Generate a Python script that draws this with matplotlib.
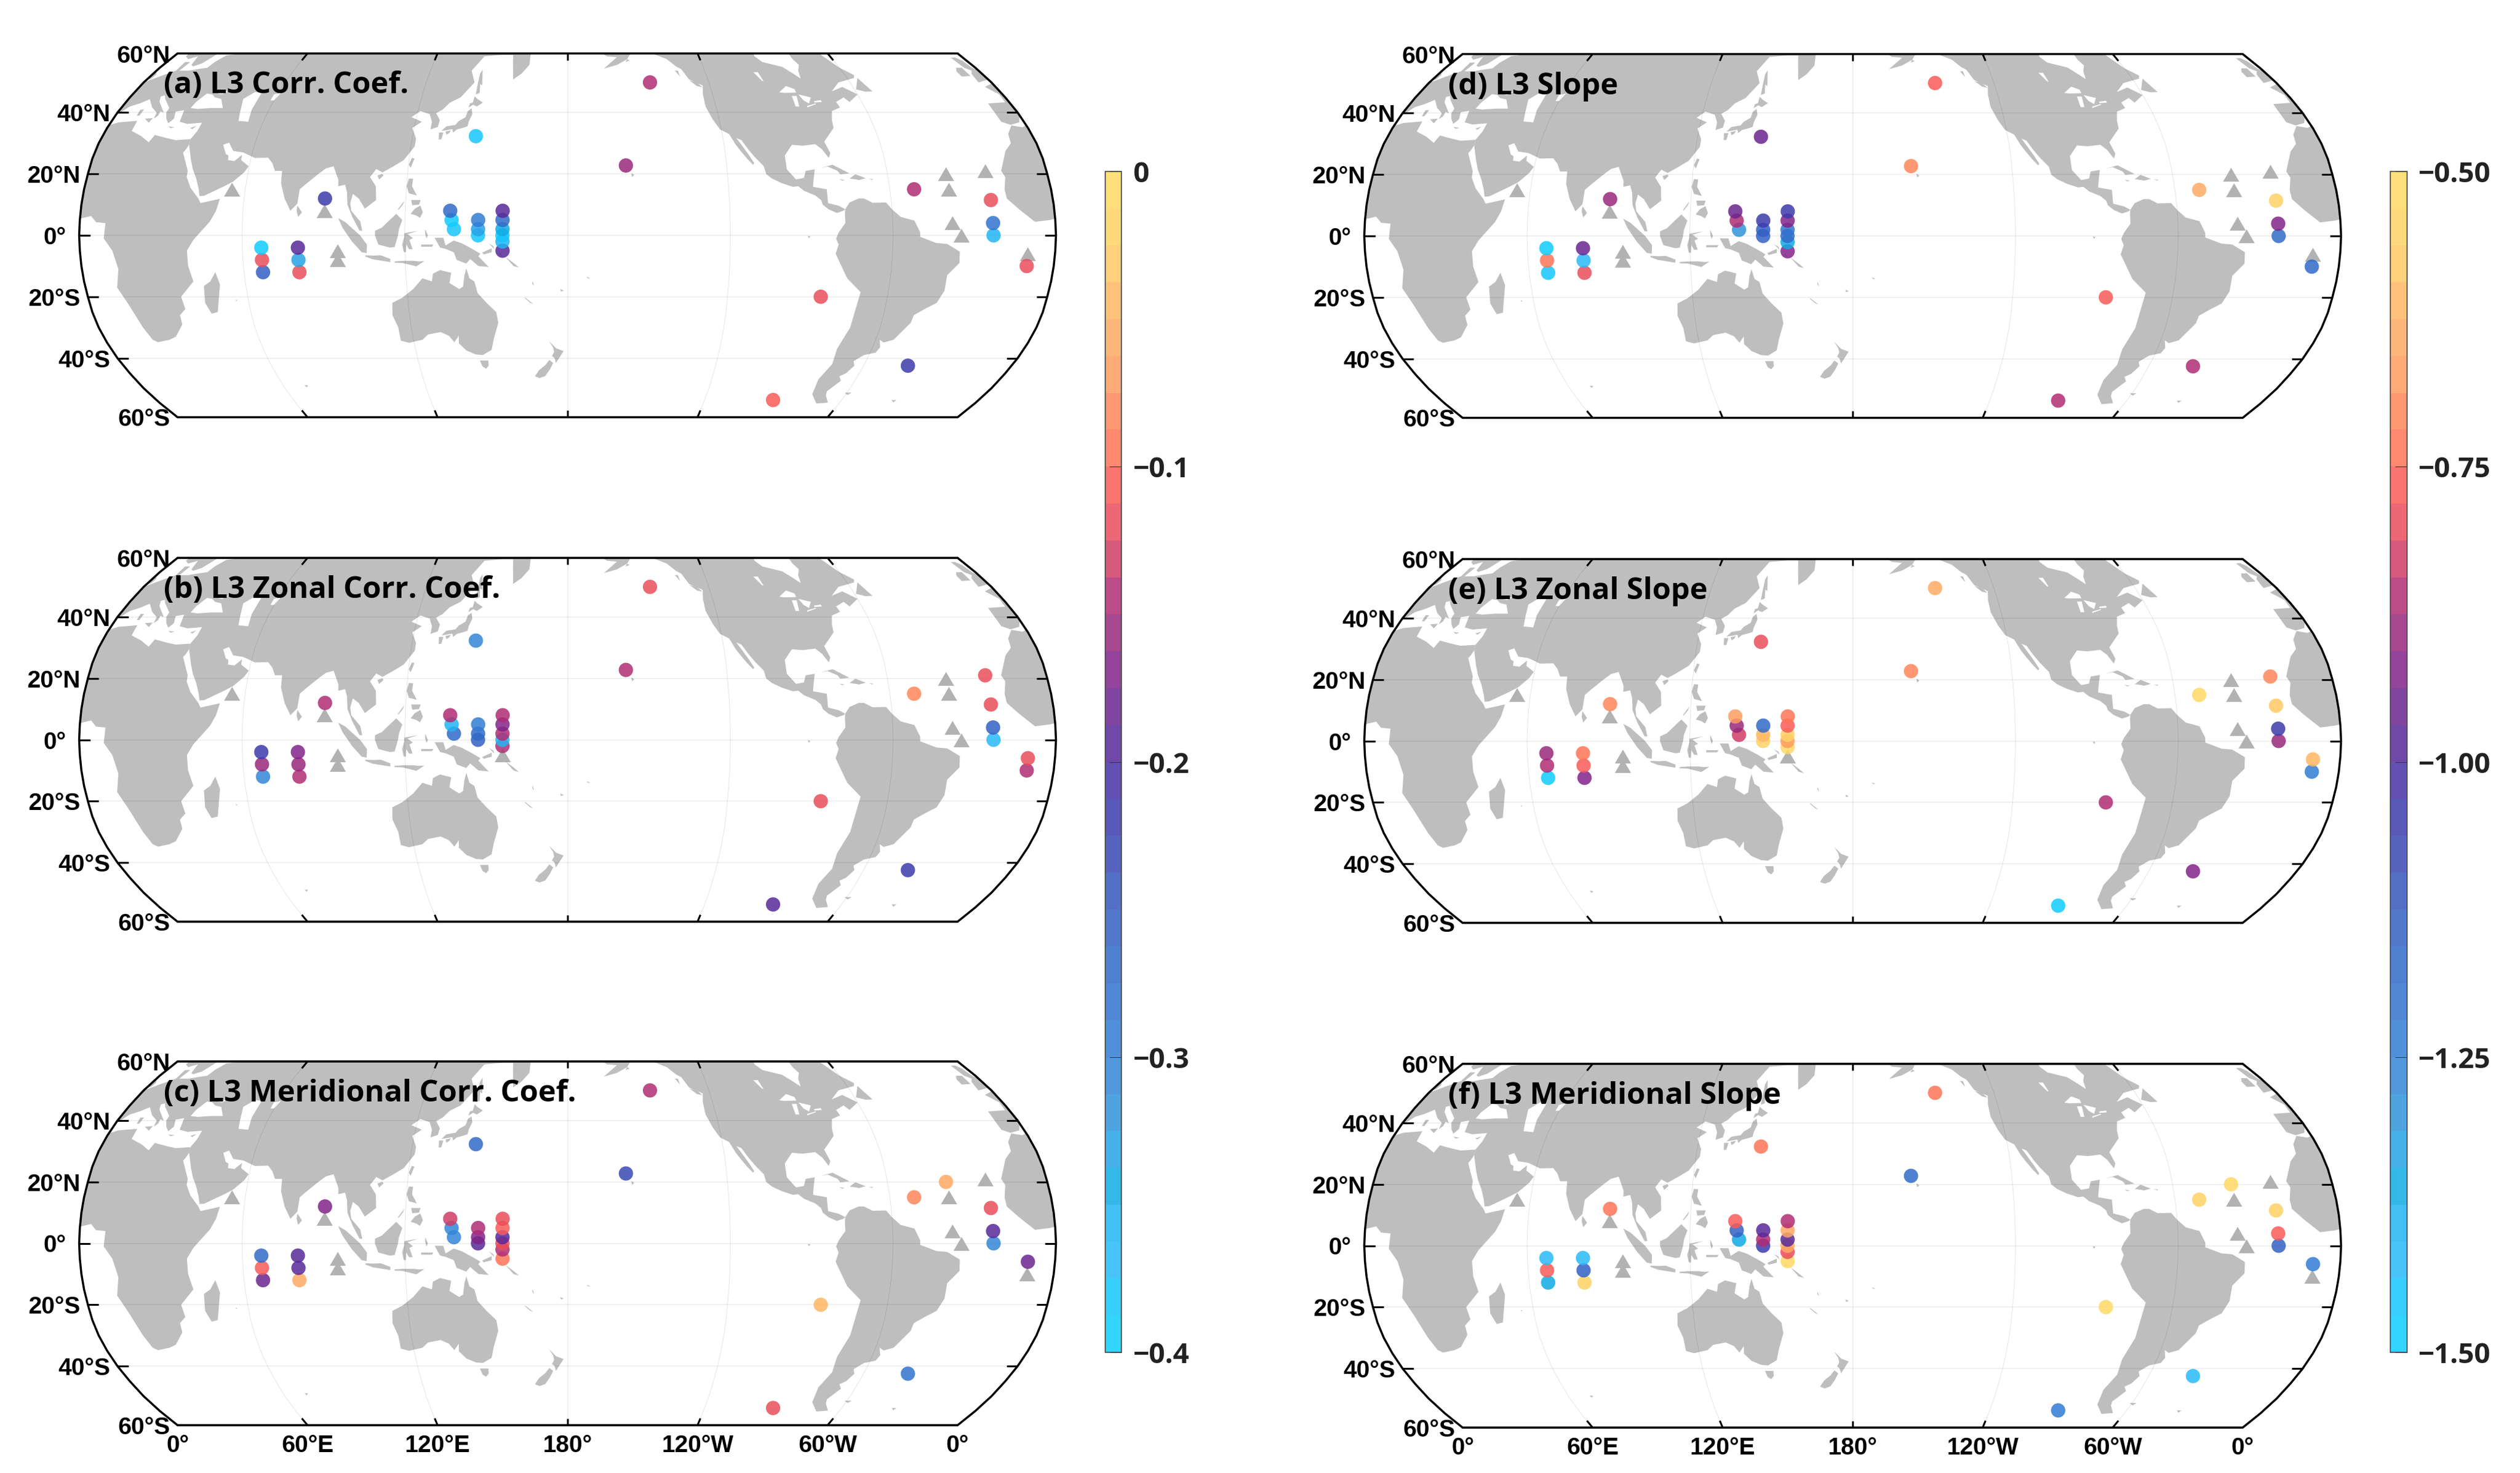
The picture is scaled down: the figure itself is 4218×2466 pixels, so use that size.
import numpy as np
import matplotlib
matplotlib.use('Agg')
import matplotlib.pyplot as plt
from matplotlib.colors import ListedColormap, to_rgb
from matplotlib.patches import Polygon
from matplotlib.cm import ScalarMappable

W, H = 4218, 2466
plt.rcParams['font.family'] = ['Open Sans', 'DejaVu Sans']

# stations, lon / lat
lons = [67, 67, 67, 80.5, 80.5, 80.5, 90, 136.6, 137.2, 138.1, 147, 147, 147, 156, 156, 156, 156, 156, 156,
        144.5, -145, -158, -85, -42, -90, -51, -38, -23, -23, -23, -23, -10, -10]
lats = [-4, -8, -12, -4, -8, -12, 12, 8, 5, 2, 5, 2, 0, 8, 5, 2, 0, -2, -5,
        32.3, 50, 22.75, -20, -42.5, -54, 15, 20, 21, 11.5, 4, 0, -6, -10]
nan = np.nan
# always triangles
tri_lons = [55, 90, 95, 95, -38, -38, -35]
tri_lats = [15, 8, -5, -8, 15, 4, 0]

corr_all = [-.388, -.124, -.256, -.20, -.336, -.122, -.22, -.264, -.388, -.38, -.292, -.336, -.38,
            -.20, -.264, -.348, -.376, -.352, -.192,
            -.384, -.144, -.16, -.116, -.22, -.106, -.144, nan, nan, -.116, -.28, -.36, nan, -.124]
corr_zonal = [-.22, -.152, -.308, -.168, -.156, -.14, -.144, -.144, -.36, -.264, -.296, -.272, -.256,
              -.144, -.168, -.14, -.36, -.144, nan,
              -.308, -.114, -.14, -.116, -.22, -.196, -.084, nan, -.122, -.116, -.26, -.368, -.116, -.14]
corr_merid = [-.264, -.104, -.184, -.188, -.188, -.06, -.168, -.132, -.308, -.308, -.144, -.172, -.20,
              -.124, -.108, -.20, -.124, -.14, -.088,
              -.264, -.14, -.228, -.04, -.276, -.12, -.08, -.056, nan, -.12, -.188, -.308, -.176, nan]
slope_all = [-1.47, -.72, -1.45, -.96, -1.42, -.805, -.90, -.95, -.855, -1.30, -1.05, -1.15, -1.15,
             -1.05, -.92, -1.19, -1.17, -1.36, -.92,
             -.96, -.765, -.69, -.765, -.855, -.85, -.63, nan, nan, -.55, -.92, -1.17, nan, -1.17]
slope_zonal = [-.90, -.85, -1.47, -.72, -.77, -.92, -.71, -.66, -.89, -.83, -1.16, -.62, -.54,
               -.72, -.77, -.54, -.66, -.53, nan,
               -.81, -.65, -.69, -.855, -.92, -1.47, -.53, nan, -.71, -.58, -1.06, -.89, -.60, -1.25]
slope_merid = [-1.42, -.77, -1.37, -1.42, -1.14, -.56, -.73, -.78, -1.14, -1.37, -.99, -.87, -1.05,
               -.85, -.64, -1.0, -.63, -.80, -.53,
               -.73, -.73, -1.18, -.53, -1.42, -1.24, -.55, -.53, nan, -.55, -.78, -1.14, -1.25, nan]

titles = ['(a) L3 Corr. Coef.', '(b) L3 Zonal Corr. Coef.', '(c) L3 Meridional Corr. Coef.',
          '(d) L3 Slope', '(e) L3 Zonal Slope', '(f) L3 Meridional Slope']

corr_ticks = [0, -.1, -.2, -.3, -.4]
corr_ticklabels = ['0', '\u22120.1', '\u22120.2', '\u22120.3', '\u22120.4']
slope_ticks = [-.5, -.75, -1, -1.25, -1.5]
slope_ticklabels = ['\u22120.50', '\u22120.75', '\u22121.00', '\u22121.25', '\u22121.50']

lat_ticks = [60, 40, 20, 0, -20, -40, -60]
lat_ticklabels = ['60°N', '40°N', '20°N', '0°', '20°S', '40°S', '60°S']
lon_ticks = [0, 60, 120, 180, 240, 300, 360]
lon_ticklabels = ['0°', '60°E', '120°E', '180°', '120°W', '60°W', '0°']

# colour bands as they look on paper, bottom to top
band_colors = ['#33D4FF', '#38CFFF', '#48C4FA', '#42C0F5', '#33B8E8', '#48B0E8', '#4FA4E0', '#5298DC',
               '#5090DA', '#5088D6', '#5080D0', '#5278CC', '#5470C6', '#5664C0', '#5A58B8', '#6250B2',
               '#7048A8', '#80469F', '#94449A', '#A84890', '#BC4C88', '#D65A7C', '#EC6874', '#FA7470',
               '#FF8A70', '#FF9873', '#FFAB78', '#FFB67A', '#FFC27A', '#FFD07C', '#FFD97C', '#FFDF7B']

# coastlines, rough, lon / lat
land = [
    # Africa, with Sinai
    [(-5.9,35.8),(-2,35.2),(3,36.8),(10,37.3),(10.2,34),(15,32.3),(19,30.3),(20,32.7),(25,31.7),(29,31),(32.3,31.2),
     (34.5,31.3),(34.9,29.5),(34.2,27.8),(33.6,27),(35.5,24),(37.2,21),(37.3,19),(39.5,15.5),(43,12),(44,10.5),(51,11.9),(50,8),(48,4.5),(42,-1.5),
     (39.5,-5),(39.5,-10),(40.7,-15),(35,-20),(35.5,-24),(32.8,-26),(32.5,-29),(28,-33),(25,-34),(20,-34.8),(18.4,-34),
     (17,-30),(14.5,-22.5),(11.8,-17),(13.5,-11),(12,-5),(9,-1),(9.5,4),(6,4.3),(4,6.3),(-2,5),(-7.5,4.4),(-13,8.5),
     (-17,12),(-17.3,15),(-16,19),(-17,21),(-13,27.5),(-9.8,30),(-9,33)],
    [(49.3,-12),(50.4,-16),(47.5,-25),(45,-25.5),(43.5,-22),(44.3,-16.5),(47,-15)],
    # Eurasia
    [(-9,43),(-8.9,37),(-6,36),(-2,36.8),(0,39),(3,42),(6,43),(8.8,44.4),(12.3,41.7),(15.7,40),(16,38),(17,39),(16.8,40.4),
     (18.5,40),(16,41.8),(13.5,43.6),(12.4,45.3),(13.7,45.7),(15,44.5),(19.4,41.5),(19.5,40),(21,38),(22.8,36.5),(24,38),
     (23,40.3),(26,40.8),(26.3,40),(27,37),(30.5,36.3),(36,36.7),(35.8,34),(34.5,31.3),(34.9,29.5),(37.5,24.5),(39,21.5),
     (41,18.5),(42.7,15),(43.3,12.8),(45,12.9),(52,16),(55,17.5),(58.5,20.5),(59.8,22.5),(56.5,24.5),(56.3,26.2),(54,24.2),
     (51.5,24.5),(51.2,26),(50,26.5),(48,29.5),(50,30.2),(52.5,27.5),(56.5,27),(61.5,25.2),(66.5,25.3),(68.5,23.5),(70,21),
     (72.7,21),(73,17),(75,12),(77.5,8),(79.9,10.3),(80.3,15),(82.3,16.7),(86.5,20),(89,21.8),(91.8,22.5),(94.3,18),(94.5,16),
     (97,16.5),(98,14),(98.5,10),(100.5,6),(103.3,1.5),(104.3,1.5),(103.5,4.5),(100,8),(99.5,10.5),(100.2,13.5),(102.5,12),
     (105,8.7),(109,11.5),(108.5,16),(106,19),(108,21.6),(110.5,20.5),(114,22.3),(118,24.5),(121.5,29),(121.5,31.5),(119.3,35),
     (122.5,37),(118,38.5),(121,40.5),(125,39.5),(126.5,37),(126.5,34.5),(129.2,35.3),(129.5,37.5),(127.5,39.8),(129.8,41),
     (132,43.2),(136,45),(140.5,50),(138,54),(142,59),(150,59.5),(155,59.5),(155.5,57),(156.7,51),(160,53),(163,56),(163,60),
     (180,65),(180,72),(100,78),(60,72),(30,70),(15,68),(5,62),(5.5,59),(8,58),(11,59),(12.5,56),(14,55.5),(16.5,56.5),
     (18.8,60),(17,62),(22,65.5),(25,65),(21.5,62),(21.5,60),(30,60),(23.5,59.3),(21.5,57),(21,55),(18.5,54.7),(14,54),(10,54),
     (10.5,57),(8.2,57),(8.5,54),(4,52),(1.6,50.8),(-1,49.5),(-4.5,48.5),(-1.3,46),(-1.7,43.4)],
    [(-5.5,50),(1.5,51.2),(1.7,52.7),(-1.5,55),(-2,57.5),(-3.5,58.6),(-5.5,58.5),(-5,55),(-3,54),(-4.5,53),(-5,51.7)],
    [(-10,52),(-6,52.2),(-6,55),(-8.5,55),(-10,53.8)],
    [(12.5,38),(15.5,38.2),(15,36.7)], [(8.3,41),(9.7,41),(9.5,39),(8.5,39)], [(32.5,35),(34.5,35.6),(33.5,34.6)],
    [(23.6,35.5),(26.2,35.2),(24.8,34.9)],
    # South East Asia
    [(80,9.7),(81.8,7.5),(80.5,6),(79.8,8)],
    [(95.3,5.6),(98,4.3),(103.5,0),(106,-3),(105.8,-5.8),(104,-5.5),(100.5,-2),(97,2.5)],
    [(105.3,-6.5),(108.5,-6.6),(111,-6.5),(114.5,-7.7),(114.4,-8.7),(108,-7.8),(105.3,-6.9)],
    [(109,1.5),(111.5,2.5),(113.8,4.5),(116.7,7),(119,5),(117.8,2),(117.5,0),(116.2,-3.8),(114.5,-4),(110.2,-3),(109,0)],
    [(119.8,0.7),(124.9,1.5),(121,0.4),(123,-0.9),(121.7,-1.5),(122.8,-4.5),(121.5,-4.5),(120.5,-3),(120.3,-5.5),(119.5,-5.4),(119,-3),(119.8,-0.5)],
    [(116,-8.5),(119,-8.3),(123,-8.3),(125,-8.5),(127,-8.4),(124,-10.1),(119,-9),(116,-8.9)],
    [(127.5,2),(128.5,0),(128,-1),(127.5,0.5)], [(126,-3),(130.5,-3),(130,-3.7),(126,-3.7)],
    [(131,-0.8),(134.2,-0.8),(135,-3.3),(138,-1.7),(141,-2.6),(145,-4.5),(147.8,-6),(147,-6.8),(150.8,-10.3),(147,-10),(144,-7.7),
     (142.5,-9.2),(139,-8),(138,-5.5),(135,-4.4),(133,-4),(132.2,-2.8)],
    [(148.5,-5.6),(152,-4.2),(152,-5.5),(149,-6.2)], [(151,-2.7),(153,-4.5),(152.6,-3.5)], [(155,-5.5),(156,-7),(154.8,-6.3)],
    [(157,-7),(160,-9),(162,-10.5),(160,-10)],
    [(120.6,18.5),(122.2,18.4),(122,16),(124,13),(121,13.7),(120,16)], [(122,11.5),(125.5,11.5),(125,10),(122.5,9.8)],
    [(122,7),(123.5,8.7),(125.5,9.7),(126.5,7.5),(125.5,5.7),(124,6.5)], [(117.2,8.4),(119.5,11.3),(119,10),(117.5,8.3)],
    [(121,25.2),(122,25),(120.9,22),(120.1,23)], [(108.7,19.5),(110.5,20),(111,19.5),(109.5,18.2)],
    # Japan, Sakhalin
    [(130.9,34),(132.5,35.5),(136,36),(137,37.2),(139.5,38.5),(140,40.5),(141.3,41.4),(142,39.5),(141,37),(140.8,35.5),(139,35),
     (136.8,34.5),(135.5,33.5),(135,34.6),(132.5,34.2)],
    [(130,33.5),(131.7,33.5),(131.3,31.3),(130.3,31.2)], [(132.5,33.8),(134.5,34.2),(134,33.3),(133,32.8)],
    [(140,41.6),(141.7,42.6),(143.3,42),(145.5,43.3),(143,44.5),(141.7,45.4),(141.4,43.3),(140.3,43)],
    [(142,46),(143.5,46.5),(143,49.5),(144,49),(143.3,52),(142.7,54.3),(142,53),(142,49.5)],
    # Australia and around
    [(114,-22),(113.5,-26),(115,-30),(115,-34.3),(118,-35),(123.5,-34),(126,-32.3),(131,-31.5),(134,-32.7),(135.8,-34.8),(137.8,-32.7),
     (137.5,-35.2),(140,-37.5),(143.5,-38.8),(146.3,-39),(150,-37.3),(151.3,-33.7),(153.5,-28.5),(153,-25),(149.5,-22),(146.3,-18.8),
     (145.3,-15),(143.5,-14),(142.5,-10.8),(141.7,-13),(141,-16.7),(139.5,-17.5),(136,-15.5),(136.8,-12.2),(132.7,-11.3),(130,-12.5),
     (129.5,-15),(126,-14),(122.3,-17.5),(118,-20.3)],
    [(144.8,-40.8),(148.2,-40.8),(148,-42.5),(146.8,-43.5),(145.5,-42.8)],
    [(172.8,-34.5),(175.5,-36.8),(178.4,-37.7),(177,-39.5),(175.3,-41.6),(174.8,-40),(173.8,-39.3),(174.7,-38),(174.3,-36.5)],
    [(172.7,-40.6),(174.2,-41.6),(172.8,-43.7),(170.8,-45.9),(168.4,-46.6),(166.5,-46),(168.3,-44),(171,-42.3)],
    [(164,-20.2),(167,-22.3),(166,-22),(164,-20.5)], [(177.3,-17.5),(178.6,-18),(177.5,-18.3)], [(167,-15),(167.5,-16.5),(166.8,-15.7)],
    [(69,-49),(70.5,-49),(69.5,-49.7)], [(55.3,-20.9),(55.8,-21.2),(55.3,-21.4)], [(-172.8,-13.5),(-171.5,-14),(-172.5,-14)],
    # North America
    [(-168,66),(-165,60.5),(-162,59),(-157.5,58.7),(-164,54.7),(-158,56),(-153,58),(-151.5,59.5),(-149,60.3),(-146,60.8),(-140,59.7),(-135,58),
     (-132,55.5),(-130,54.5),(-128,51),(-123,49),(-124,46),(-124.2,42),(-122.5,37.7),(-120.5,34.5),(-117.3,33),(-115.5,29.5),(-114,27.5),
     (-112,25),(-110,23),(-109.5,23.5),(-111,26),(-113,29),(-114.8,31.7),(-113,31),(-111,28),(-109,25.5),(-106,22.5),(-105.5,20),(-103.5,18.5),
     (-100,17),(-96,15.8),(-94,16),(-92,14.5),(-88,13),(-86,11.5),(-85.5,10),(-83.5,8.5),(-80.5,7.3),(-78,8),(-77.3,8.5),(-79.5,9.6),(-83.5,10.5),
     (-83.5,15),(-88.5,15.8),(-88,18),(-87,21.5),(-90.5,21),(-91.5,18.7),(-94.5,18.2),(-97.5,21.5),(-97.5,26),(-94,29.5),(-90,29.2),(-85,29.7),
     (-82.8,28),(-81,25.2),(-80,26.8),(-81.3,30.5),(-76,35),(-75.5,37.5),(-74,40.5),(-70,41.7),(-70.5,43.5),(-66.5,45),(-65,43.5),(-60,46),
     (-64.5,48.5),(-70,47),(-65,50),(-57,51.5),(-56,52.5),(-60,55),(-64,60),(-70,61),(-78,62.5),(-78,58),(-77,56),(-79,54),(-80,51.3),(-82,53),
     (-85,55.3),(-92.5,57),(-94.5,59),(-94,61),(-90,70),(-120,72),(-168,72)],
    [(-59.3,47.7),(-55.5,51.5),(-53,47),(-56,46.9)],
    [(-84.9,21.9),(-80,23),(-74.2,20.2),(-77.7,19.9),(-78.5,21),(-82,22.4)],
    [(-74.4,18.5),(-72,19.9),(-68.4,18.6),(-71,18),(-72,18.2)], [(-78.3,18.3),(-76.3,18),(-77.3,17.8)], [(-67.2,18.4),(-65.7,18.3),(-66,18)],
    [(-128,50.7),(-125,50),(-123.4,48.4),(-125.5,48.8)], [(-133,54),(-131.7,54),(-131.5,52)], [(-153,58),(-152,57.5),(-154,57)],
    [(-156,20.3),(-155,19.7),(-155.8,19),(-156,19.8)], [(-158.3,21.6),(-157.7,21.4),(-158,21.3)],
    [(-50,62),(-44,59.9),(-41,62)],
    # South America
    [(-77.3,8.5),(-75.5,10.7),(-72,12),(-70,12),(-67,10.6),(-62,10.7),(-60,8.5),(-57,6),(-52,4.8),(-50,1),(-50,-0.5),(-44,-2.5),(-40,-2.8),
     (-35.2,-5.3),(-35,-9),(-39,-13),(-39,-18),(-41,-22),(-45,-24),(-48.5,-26),(-48.8,-28.5),(-53,-34),(-56.5,-34.9),(-58.4,-34),(-57,-36.5),
     (-57.8,-38.2),(-62,-39),(-65,-41),(-63.7,-42.5),(-65.5,-45),(-67.5,-46),(-65.8,-47.5),(-69,-51),(-68.3,-52.4),(-65.2,-54.9),(-70,-55.2),
     (-74.5,-52),(-75.5,-47),(-73,-42),(-73.7,-37),(-71.5,-30),(-70.3,-18.5),(-76,-14),(-81,-6),(-80,-3),(-81,-1),(-80,1),(-77.5,4),(-77.5,7)],
    [(-61,-51.5),(-58,-51.5),(-59,-52.3)], [(-38,-54),(-36,-54),(-36.5,-54.8)], [(-91.5,-0.2),(-90.5,-0.3),(-91,-1)],
]
lakes = [
    [(28,41.5),(31,41.2),(36,41.5),(41,41.5),(38,44.5),(35,45),(33,46),(30.5,46.3),(28.5,43.5)],
    [(37,46),(39,47.2),(35,46.3)],
    [(47,44.5),(50,46.8),(53,46.5),(53,41),(54,37),(50,37.3),(49,40)],
    [(58.5,46),(61,46.5),(60,44),(58.5,44)],
    [(-92,46.7),(-88,48.8),(-85,47.8),(-85,46.6),(-90,46.5)], [(-87.8,42),(-86.3,42),(-85.5,45.5),(-87.5,45.5)],
    [(-84.5,46),(-80,45),(-81.8,43),(-83.5,44)], [(-83.3,41.7),(-79,42.8),(-79.2,43),(-83,42.2)],
    [(-79.5,43.3),(-76.3,43.5),(-76.4,44.1),(-79.3,43.8)], [(-99,53.5),(-97,53.5),(-96.5,50.5),(-97,50.5)],
]

# Robinson table, every 5 degrees
rob_lat = np.arange(0, 95, 5)
rob_len = [1, .9986, .9954, .99, .9822, .973, .96, .9427, .9216, .8962, .8679, .835, .7986, .7597, .7186, .6732, .6213, .5722, .5322]
rob_dfe = [0, .062, .124, .186, .248, .31, .372, .434, .4958, .5571, .6176, .6769, .7346, .7903, .8435, .8936, .9394, .9761, 1]


def proj(lon, lat):
    # lon in degrees east, map is centred on 180
    lon = np.asarray(lon, dtype=float)
    lat = np.asarray(lat, dtype=float)
    x = .8487 * np.interp(np.abs(lat), rob_lat, rob_len) * np.radians(lon - 180)
    y = 1.3523 * np.interp(np.abs(lat), rob_lat, rob_dfe) * np.sign(lat)
    return x, y


def draw_map(ax, values, title, bottom_labels):
    ax.set_xlim(-2.6663, 2.6663)
    ax.set_ylim(-.9934, .9934)
    ax.axis('off')

    side = np.linspace(-60, 60, 121)
    xl, yl = proj(np.zeros_like(side), side)
    xr, yr = proj(np.full_like(side, 360), side)
    edge = np.column_stack([np.r_[xr, xl[::-1]], np.r_[yr, yl[::-1]]])
    frame = Polygon(edge, closed=True, fc='none', ec='k', lw=.85, zorder=10, clip_on=False)
    ax.add_patch(frame)

    # shapes that cross 0 degrees are drawn on both sides, the frame cuts them
    for polys, color, z in [(land, '#BEBEBE', 1), (lakes, 'white', 1.5)]:
        for poly in polys:
            lon, lat = np.array(poly).T
            for shift in (0, 360):
                x, y = proj(lon + shift, lat)
                pg = ax.fill(x, y, color=color, lw=0, zorder=z)[0]
                pg.set_clip_path(frame)

    for la in [-40, -20, 0, 20, 40]:
        x, y = proj(np.array([0, 360]), np.array([la, la]))
        ln, = ax.plot(x, y, color='k', lw=.4, alpha=.07, zorder=2)
        ln.set_clip_path(frame)
    for lo in lon_ticks[1:-1]:
        la = np.linspace(-60, 60, 61)
        x, y = proj(np.full_like(la, lo), la)
        ax.plot(x, y, color='k', lw=.2, alpha=.12, zorder=2)

    # ticks point inward
    for lo in lon_ticks[1:-1]:
        for a, b in [(60, 57.6), (-60, -57.6)]:
            x, y = proj([lo, lo], [a, b])
            ax.plot(x, y, color='k', lw=.75, zorder=9, solid_capstyle='butt')
    tick_len = 18 / 306.6
    for la in lat_ticks[1:-1]:
        x0, y0 = proj(0, la)
        x1, y1 = proj(360, la)
        ax.plot([x0, x0 + tick_len], [y0, y0], color='k', lw=.75, zorder=9, solid_capstyle='butt')
        ax.plot([x1, x1 - tick_len], [y1, y1], color='k', lw=.75, zorder=9, solid_capstyle='butt')

    for la, txt in zip(lat_ticks, lat_ticklabels):
        off = -22 if la == 0 else -12
        ax.annotate(txt, proj(0, la), xytext=(off, 0), textcoords='offset pixels', ha='right', va='center_baseline',
                    family=['Liberation Sans', 'DejaVu Sans'], weight='bold', fontsize=9.6, annotation_clip=False)
    if bottom_labels:
        for lo, txt in zip(lon_ticks, lon_ticklabels):
            ax.annotate(txt, proj(lo, -60), xytext=(0, -15), textcoords='offset pixels', ha='center', va='top',
                        family=['Liberation Sans', 'DejaVu Sans'], weight='bold', fontsize=9.6, annotation_clip=False)

    # stations without a value stay as grey triangles
    val = np.array(values, dtype=float)
    lo_all, la_all = np.array(lons, dtype=float) % 360, np.array(lats, dtype=float)
    miss = np.isnan(val)
    tx, ty = proj(np.r_[np.array(tri_lons, dtype=float) % 360, lo_all[miss]], np.r_[tri_lats, la_all[miss]])
    ax.scatter(tx, ty, marker=[(-.5, -.43), (.5, -.43), (0, .43)], s=42, c='#B2B2B2', lw=0, zorder=4, clip_on=False)
    order = np.argsort(la_all[~miss])
    x, y = proj(lo_all[~miss][order], la_all[~miss][order])
    return x, y, val[~miss][order]


fig = plt.figure(figsize=(W / 300, H / 300), dpi=300)

alpha = .85
vis = np.array([to_rgb(c) for c in band_colors])
cmap_vis = ListedColormap(vis)
cmap_dots = ListedColormap(np.clip((vis - (1 - alpha)) / alpha, 0, 1))

panels = [
    (corr_all, titles[0], 950, 89.5, False, (-.4, 0)),
    (corr_zonal, titles[1], 950, 934, False, (-.4, 0)),
    (corr_merid, titles[2], 950, 1777, True, (-.4, 0)),
    (slope_all, titles[3], 3101, 90.5, False, (-1.5, -.5)),
    (slope_zonal, titles[4], 3101, 936, False, (-1.5, -.5)),
    (slope_merid, titles[5], 3101, 1781, True, (-1.5, -.5)),
]
for vals, title, cx, top, bottom, lim in panels:
    ax = fig.add_axes([(cx - 817.5) / W, 1 - (top + 609) / H, 1635 / W, 609 / H])
    x, y, v = draw_map(ax, vals, title, bottom)
    ax.scatter(x, y, c=v, s=33, cmap=cmap_dots, vmin=lim[0], vmax=lim[1], alpha=alpha, lw=0, zorder=5)
    ax.text(141 / 1635, 1 - 67 / 609, title, transform=ax.transAxes, fontsize=12.05, weight='bold',
            va='baseline', ha='left', zorder=12)

for x0, lim, ticks, labels in [(1850, (-.4, 0), corr_ticks, corr_ticklabels),
                               (4001, (-1.5, -.5), slope_ticks, slope_ticklabels)]:
    cax = fig.add_axes([x0 / W, 1 - 2264 / H, 27.5 / W, (2264 - 287) / H])
    sm = ScalarMappable(norm=plt.Normalize(*lim), cmap=cmap_vis)
    cb = fig.colorbar(sm, cax=cax)
    cb.set_ticks(ticks)
    cb.set_ticklabels(labels)
    cb.outline.set_edgecolor('#444444')
    cb.outline.set_linewidth(.4)
    cax.tick_params(direction='in', length=4.8, width=.25, color='#333333', pad=4.6, labelsize=11.3, labelcolor='#222222')
    for t in cax.get_yticklabels():
        t.set_fontweight('bold')

fig.savefig('out.png', dpi=300)
